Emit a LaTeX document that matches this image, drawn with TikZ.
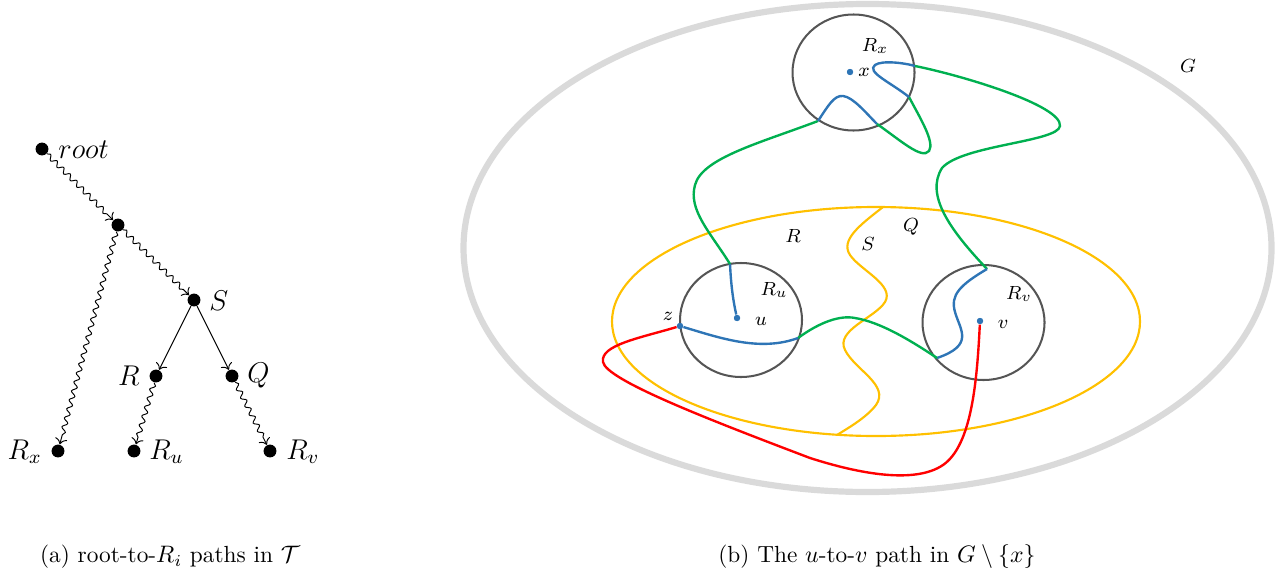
\documentclass[tikz,border=0pt]{standalone}
\usetikzlibrary{decorations.pathmorphing,arrows.meta}
\definecolor{pblue}{RGB}{46,117,182}
\definecolor{pgreen}{RGB}{0,176,80}
\definecolor{pred}{RGB}{255,0,0}
\definecolor{pyellow}{RGB}{255,192,0}
\definecolor{pgray}{RGB}{218,218,218}
\definecolor{pdark}{RGB}{85,85,85}
\begin{document}
\begin{tikzpicture}[x=0.42pt,y=-0.42pt,
  tnode/.style={circle,fill=black,inner sep=0pt,minimum size=5.4pt},
  tlab/.style={font=\fontsize{11.5}{13}\selectfont},
  snk/.style={->,decorate,decoration={snake,amplitude=1pt,segment length=3.9pt,post length=2.5pt}},
  str/.style={->},
  rcirc/.style={draw=pdark,line width=0.85pt},
  gpath/.style={draw=pgreen,line width=1pt},
  bpath/.style={draw=pblue,line width=1pt},
  rlab/.style={font=\footnotesize},
  pdot/.style={circle,fill=pblue,inner sep=0pt,minimum size=2.6pt}]
\useasboundingbox (0,0) rectangle (1283,573);
% ---------- (a) tree ----------
\node[tnode] (root) at (42,149) {};
\node[tnode] (n1) at (118,225) {};
\node[tnode] (S) at (194,300) {};
\node[tnode] (R) at (156,376) {};
\node[tnode] (Q) at (232,376) {};
\node[tnode] (Rx) at (58,451) {};
\node[tnode] (Ru) at (134,451) {};
\node[tnode] (Rv) at (270,451) {};
\node[tlab,anchor=west] (lroot) at (50,150) {$root$};
\node[tlab,anchor=west] (lS) at (201,301) {$S$};
\node[tlab,anchor=east] (lR) at (148,376) {$R$};
\node[tlab,anchor=west] (lQ) at (239,376) {$Q$};
\node[tlab,anchor=east] (lRx) at (50,452) {$R_x$};
\node[tlab,anchor=west] (lRu) at (141,452) {$R_u$};
\node[tlab,anchor=west] (lRv) at (278,452) {$R_v$};
\draw[snk] (root) -- (n1);
\draw[snk] (n1) -- (S);
\draw[snk] (n1) -- (Rx);
\draw[str] (S) -- (R);
\draw[str] (S) -- (Q);
\draw[snk] (R) -- (Ru);
\draw[snk] (Q) -- (Rv);
\node[font=\fontsize{9.8}{12}\selectfont] (capa) at (170,557) {(a) root-to-$R_i$ paths in $\mathcal{T}$};
% ---------- (b) graph ----------
\draw[pgray,line width=2.6pt] (867.5,248) ellipse [x radius=404,y radius=244];
\node[rlab] (lG) at (1188,66) {$G$};
\draw[pyellow,line width=0.9pt] (876,321.5) ellipse [x radius=264,y radius=114.5];
\draw[rcirc] (853.5,72.5) ellipse [x radius=61,y radius=58];
\draw[rcirc] (741,320) ellipse [x radius=61,y radius=57];
\draw[rcirc] (983.5,322.5) ellipse [x radius=61,y radius=57.5];
% yellow S curve
\coordinate (yt) at (883,207);
\coordinate (yb) at (837,435);
\draw[pyellow,line width=0.9pt] (yt) .. controls (860,225) and (840,240) .. (850,255)
  .. controls (860,270) and (895,285) .. (885,302)
  .. controls (875,318) and (835,330) .. (845,350)
  .. controls (855,370) and (890,385) .. (876,405)
  .. controls (866,418) and (848,428) .. (yb);
% key points
\node[pdot] (x) at (850,72) {};
\node[pdot] (u) at (737,318) {};
\node[pdot] (v) at (980,321) {};
\node[pdot] (z) at (680,326) {};
\coordinate (ut) at (730,264);
\coordinate (rx1) at (818,121);
\coordinate (rx2) at (877,124);
\coordinate (rx3) at (909,97);
\coordinate (rx4) at (915,66);
\coordinate (rv1) at (987,269);
\coordinate (rv2) at (937,358);
\coordinate (ru1) at (798,338);
% red
\draw[pred,line width=1pt] (z) .. controls (640,338) and (600,345) .. (603,362)
  .. controls (606,380) and (710,420) .. (810,458)
  .. controls (860,474) and (915,484) .. (943,465)
  .. controls (972,445) and (977,380) .. (v);
% blue/green path
\draw[bpath] (u) .. controls (733,300) and (731,285) .. (ut);
\draw[gpath] (ut) .. controls (710,232) and (688,210) .. (695,185)
  .. controls (702,158) and (760,143) .. (rx1);
\draw[bpath] (rx1) .. controls (828,106) and (834,95) .. (843,96)
  .. controls (853,97) and (866,113) .. (rx2);
\draw[gpath] (rx2) .. controls (900,140) and (922,160) .. (929,151)
  .. controls (935,142) and (920,118) .. (rx3);
\draw[bpath] (rx3) .. controls (890,82) and (866,72) .. (875,65)
  .. controls (882,60) and (905,63) .. (rx4);
\draw[gpath] (rx4) .. controls (960,75) and (1062,105) .. (1060,126)
  .. controls (1058,142) and (962,145) .. (942,168)
  .. controls (925,195) and (950,230) .. (rv1);
\draw[bpath] (rv1) .. controls (960,285) and (950,295) .. (955,312)
  .. controls (960,330) and (975,345) .. (rv2);
\draw[gpath] (ru1) .. controls (820,322) and (840,315) .. (855,318)
  .. controls (880,322) and (910,340) .. (rv2);
\draw[bpath] (z) .. controls (720,338) and (760,352) .. (ru1);
\node[pdot] at (x) {};
\node[pdot] at (u) {};
\node[pdot] at (v) {};
\node[pdot] at (z) {};
% labels
\node[rlab] (lx) at (864,72) {$x$};
\node[rlab] (lRxx) at (875,46) {$R_x$};
\node[rlab] (lu) at (761,321) {$u$};
\node[rlab] (lRuu) at (774,290) {$R_u$};
\node[rlab] (lv) at (1003,324) {$v$};
\node[rlab] (lRvv) at (1019,294) {$R_v$};
\node[rlab] (lz) at (668,316) {$z$};
\node[rlab] (lR2) at (793,236) {$R$};
\node[rlab] (lS2) at (868,244) {$S$};
\node[rlab] (lQ2) at (911,227) {$Q$};
\node[font=\fontsize{9.8}{12}\selectfont] (capb) at (877,557) {(b) The $u$-to-$v$ path in $G\setminus\{x\}$};
\end{tikzpicture}
\end{document}
